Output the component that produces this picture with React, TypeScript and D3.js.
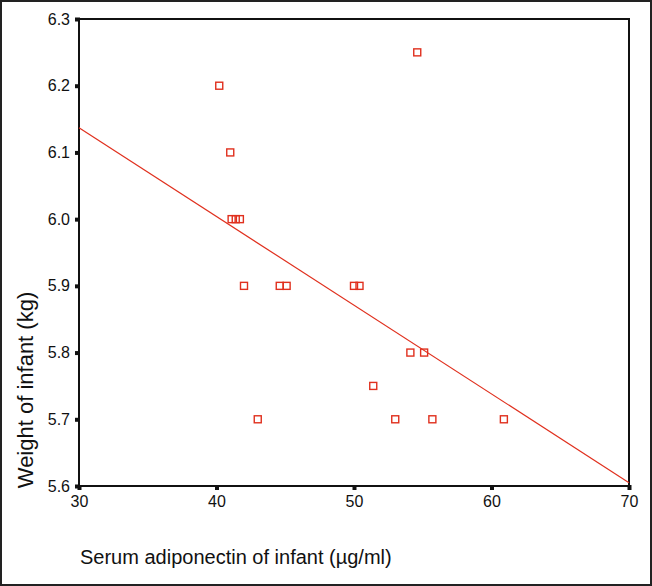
import * as React from "react";
import * as d3 from "d3";
import { useEffect, useRef } from "react";

// serum adiponectin (µg/ml) vs weight of infant (kg)
const adiponectin = [
  40.2, 54.6, 41.0, 41.1, 41.4, 41.7, 42.0, 44.6, 45.1, 50.0, 50.4, 54.1, 55.1, 51.4, 43.0, 53.0, 55.7, 60.9,
];
const weight = [
  6.2, 6.25, 6.1, 6.0, 6.0, 6.0, 5.9, 5.9, 5.9, 5.9, 5.9, 5.8, 5.8, 5.75, 5.7, 5.7, 5.7, 5.7,
];
// fitted line, read at both ends of the x range
const fitX = [30, 70];
const fitY = [6.137, 5.605];
const xTicks = [30, 40, 50, 60, 70];
const yTicks = [5.6, 5.7, 5.8, 5.9, 6.0, 6.1, 6.2, 6.3];

const App: React.FunctionComponent = () => {
  const svgRef = useRef<SVGSVGElement>(null);

  useEffect(() => {
    const w = 652;
    const h = 586;
    const m = { left: 79, right: 629, top: 19, bottom: 486 };
    const red = "#e0301e";
    const font = "'Liberation Sans', Arial, sans-serif";

    const svg = d3.select(svgRef.current).attr("width", w).attr("height", h);
    svg.selectAll("*").remove();

    svg.append("rect").attr("width", w).attr("height", h).attr("fill", "#fff");
    svg
      .append("rect")
      .attr("x", 1)
      .attr("y", 1)
      .attr("width", w - 2)
      .attr("height", h - 2)
      .attr("fill", "none")
      .attr("stroke", "#222")
      .attr("stroke-width", 2);

    const x = d3.scaleLinear().domain([30, 70]).range([m.left, m.right]);
    const y = d3.scaleLinear().domain([5.6, 6.3]).range([m.bottom, m.top]);

    // plot frame
    svg
      .append("rect")
      .attr("x", m.left)
      .attr("y", m.top)
      .attr("width", m.right - m.left)
      .attr("height", m.bottom - m.top)
      .attr("fill", "none")
      .attr("stroke", "#111")
      .attr("stroke-width", 2);

    const xAxis = d3.axisBottom(x).tickValues(xTicks).tickFormat(d3.format("d")).tickSize(0).tickPadding(10);
    const gx = svg.append("g").attr("transform", `translate(0, ${m.bottom})`).call(xAxis);
    gx.select(".domain").remove();
    gx.selectAll("text").attr("font-family", font).attr("font-size", 16).attr("fill", "#111");
    gx.selectAll(".tick")
      .append("rect")
      .attr("x", -2)
      .attr("y", -1)
      .attr("width", 4)
      .attr("height", 5)
      .attr("fill", "#111");

    const yAxis = d3.axisLeft(y).tickValues(yTicks).tickFormat(d3.format(".1f")).tickSize(0).tickPadding(9);
    const gy = svg.append("g").attr("transform", `translate(${m.left}, 0)`).call(yAxis);
    gy.select(".domain").remove();
    gy.selectAll("text").attr("font-family", font).attr("font-size", 16).attr("fill", "#111");
    gy.selectAll(".tick")
      .append("rect")
      .attr("x", -4)
      .attr("y", -2)
      .attr("width", 5)
      .attr("height", 4)
      .attr("fill", "#111");

    svg
      .append("path")
      .attr("d", d3.line()(fitX.map((v, i) => [x(v), y(fitY[i])])))
      .attr("stroke", red)
      .attr("stroke-width", 1.2)
      .attr("fill", "none");

    svg
      .selectAll(".pt")
      .data(adiponectin.map((v, i) => ({ x: v, y: weight[i] })))
      .join("rect")
      .attr("class", "pt")
      .attr("x", (d) => x(d.x) - 3.5)
      .attr("y", (d) => y(d.y) - 3.5)
      .attr("width", 7)
      .attr("height", 7)
      .attr("fill", "none")
      .attr("stroke", red)
      .attr("stroke-width", 1.4);

    svg
      .append("text")
      .attr("x", m.left + 1)
      .attr("y", 564)
      .attr("font-family", font)
      .attr("font-size", 20)
      .attr("fill", "#111")
      .text("Serum adiponectin of infant (µg/ml)");

    svg
      .append("text")
      .attr("transform", `translate(33, 390) rotate(-90)`)
      .attr("text-anchor", "middle")
      .attr("font-family", font)
      .attr("font-size", 22)
      .attr("fill", "#111")
      .text("Weight of infant (kg)");
  }, []);

  return <svg ref={svgRef} style={{ position: "absolute", left: 0, top: 0 }}></svg>;
};

export default App;
